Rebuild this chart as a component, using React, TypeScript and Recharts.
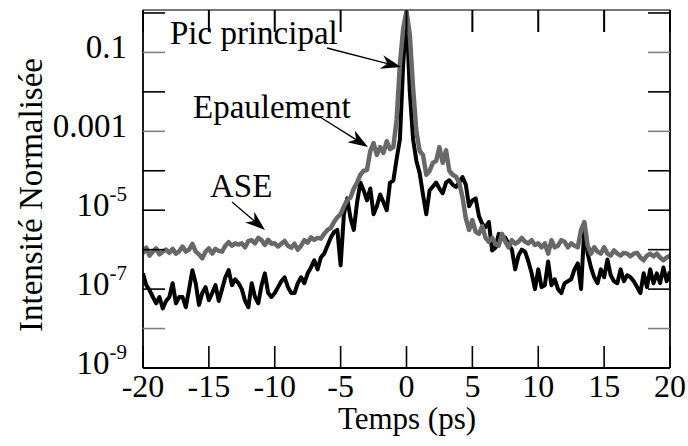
import React from "react";
import { LineChart, Line, XAxis, YAxis } from "recharts";

const SERIF = '"Liberation Serif", "Times New Roman", serif';

// log10 of the normalised intensity, one value every 0.25 ps from -20 to 20 ps
// grey curve (ASE + epaulement)
const greyLog = [
  -6.1, -5.95, -6.15, -6.05,
  -5.97, -6.12, -6.05, -6.0,
  -6.08, -5.98, -6.1, -6.04,
  -5.92, -6.05, -6.0, -5.85,
  -6.05, -6.12, -6.22, -6.05,
  -5.97, -6.1, -5.98, -6.03,
  -6.05, -5.9, -5.81, -5.9,
  -5.84, -5.87, -5.84, -5.94,
  -5.78, -5.76, -5.84, -5.7,
  -5.76, -5.88, -5.75, -5.85,
  -5.84, -5.92, -5.85, -5.78,
  -5.9, -5.95, -5.85, -6.0,
  -5.9, -5.76, -5.82, -5.69,
  -5.75, -5.7, -5.72, -5.6,
  -5.5, -5.45, -5.3, -5.18,
  -5.1, -4.9, -4.75, -4.68,
  -4.45, -4.3, -4.1, -4.0,
  -3.98, -3.5, -3.3, -3.6,
  -3.4, -3.55, -3.25, -3.45,
  -3.4, -2.7, -1.3, -0.4,
  0.05, -0.55, -1.9, -3.0,
  -3.5, -3.6, -4.1, -4.0,
  -3.8, -3.75, -3.4, -3.8,
  -3.48, -4.0, -4.1, -4.15,
  -4.3, -4.67, -5.2, -5.5,
  -5.25, -5.55, -5.6, -5.4,
  -5.7, -5.8, -5.7, -5.85,
  -5.9, -5.6, -5.8, -5.94,
  -5.76, -5.85, -5.8, -5.7,
  -5.8, -5.84, -5.76, -5.88,
  -5.84, -5.94, -5.84, -6.1,
  -5.76, -5.94, -5.9, -5.76,
  -5.8, -5.94, -5.84, -5.9,
  -5.94, -5.5, -5.3, -5.9,
  -6.1, -5.94, -6.05, -6.1,
  -5.94, -6.1, -6.15, -6.02,
  -6.1, -6.15, -6.08, -6.1,
  -6.17, -6.1, -6.08, -6.2,
  -6.27, -6.15, -6.1, -6.17,
  -6.1, -6.2, -6.27, -6.2,
  -6.15,
];

// black curve (pic principal)
const blackLog = [
  -6.6, -6.9, -7.03, -7.2,
  -7.36, -7.2, -7.49, -7.3,
  -7.2, -6.85, -7.36, -7.2,
  -7.2, -7.46, -7.0, -6.52,
  -6.85, -7.4, -7.1, -6.95,
  -7.28, -7.1, -6.9, -7.3,
  -7.0, -6.7, -6.52, -6.9,
  -6.75, -6.85, -7.0, -7.3,
  -7.46, -6.85, -7.2, -7.36,
  -6.9, -6.6, -7.1, -7.2,
  -7.1, -6.95, -6.8, -6.7,
  -6.95, -7.1, -7.1, -6.85,
  -6.7, -6.85, -6.6, -6.45,
  -6.27, -6.5, -6.2, -6.1,
  -5.9, -5.7, -5.55, -5.5,
  -6.4, -5.1, -4.7, -5.2,
  -5.5, -4.8, -4.3, -4.5,
  -4.75, -4.45, -5.1, -4.9,
  -4.6, -4.8, -5.0, -4.3,
  -4.25, -3.7, -3.2, -1.3,
  0, -2.0, -3.2, -3.75,
  -4.06, -4.6, -5.1, -4.5,
  -4.4, -4.3, -4.45, -4.57,
  -4.3, -4.24, -4.35, -4.41,
  -4.3, -4.16, -4.35, -4.9,
  -4.75, -4.7, -5.15, -5.35,
  -5.43, -5.3, -6.02, -5.95,
  -5.6, -5.65, -5.7, -5.85,
  -6.0, -6.5, -6.15, -6.0,
  -6.05, -6.3, -6.6, -7.0,
  -6.5, -6.95, -6.9, -6.3,
  -6.9, -6.75, -7.0, -7.1,
  -6.85, -6.8, -6.75, -6.5,
  -6.35, -7.0, -5.43, -6.1,
  -6.45, -6.7, -6.85, -6.5,
  -6.7, -6.25, -6.65, -6.8,
  -6.85, -6.5, -6.8, -6.65,
  -6.7, -6.8, -6.95, -7.1,
  -6.6, -6.95, -6.5, -6.85,
  -6.6, -6.85, -6.45, -6.8,
  -6.55,
];

const timeTicks = [-20, -15, -10, -5, 0, 5, 10, 15, 20];
const decadeTicks = [1, 0.1, 0.01, 1e-3, 1e-4, 1e-5, 1e-6, 1e-7, 1e-8, 1e-9];
const decadeLabels: Record<number, [string, string]> = {
  [-1]: ["0.1", ""],
  [-3]: ["0.001", ""],
  [-5]: ["10", "-5"],
  [-7]: ["10", "-7"],
  [-9]: ["10", "-9"],
};
const greyTickDecades = [-1, -3, -8];
const yMax = 1.19;

// plot box (chart margins + axis sizes)
const W = 688;
const H = 446;
const PLOT_L = 143;
const PLOT_R = 670;
const PLOT_T = 10;

const data = greyLog.map((g, i) => ({
  t: -20 + i * 0.25,
  grey: 10 ** g,
  black: 10 ** blackLog[i],
}));

function BottomTick({ x, y, payload }: any) {
  return (
    <g>
      <line x1={x} x2={x} y1={y} y2={y - 22} stroke="#000" strokeWidth={1.6} />
      <text x={x} y={y + 29} textAnchor="middle" fontSize={32} fontFamily={SERIF} fill="#000">
        {payload.value}
      </text>
    </g>
  );
}

function LeftTick({ x, y, payload }: any) {
  const exp = Math.round(Math.log10(payload.value));
  const lab = decadeLabels[exp];
  const col = greyTickDecades.includes(exp) ? "#808080" : "#000";
  return (
    <g>
      <line x1={x} x2={x + 22} y1={y} y2={y} stroke={col} strokeWidth={1.6} />
      {lab && (
        <text x={x - 16} y={y + 6} textAnchor="end" fontSize={33} fontFamily={SERIF} fill="#000">
          <tspan>{lab[0]}</tspan>
          {lab[1] && (
            <tspan dy={-15} fontSize={21}>
              {lab[1]}
            </tspan>
          )}
        </text>
      )}
    </g>
  );
}

function RightTick({ x, y, payload }: any) {
  const exp = Math.round(Math.log10(payload.value));
  const col = greyTickDecades.includes(exp) ? "#808080" : "#000";
  return <line x1={x} x2={x - 22} y1={y} y2={y} stroke={col} strokeWidth={1.6} />;
}

function Arrow({ x1, y1, x2, y2 }: { x1: number; y1: number; x2: number; y2: number }) {
  const a = Math.atan2(y2 - y1, x2 - x1);
  const len = 20;
  const w = 7;
  const bx = x2 - len * Math.cos(a);
  const by = y2 - len * Math.sin(a);
  const nx = -Math.sin(a);
  const ny = Math.cos(a);
  const mx = x2 - len * 0.7 * Math.cos(a);
  const my = y2 - len * 0.7 * Math.sin(a);
  const pts = `${x2},${y2} ${bx + nx * w},${by + ny * w} ${mx},${my} ${bx - nx * w},${by - ny * w}`;
  return (
    <g>
      <line x1={x1} y1={y1} x2={mx} y2={my} stroke="#000" strokeWidth={1.3} />
      <polygon points={pts} fill="#000" />
    </g>
  );
}

export default function App() {
  const txt = { fontFamily: SERIF, fontSize: 33, fill: "#000" };
  const tx = (t: number) => PLOT_L + ((t + 20) / 40) * (PLOT_R - PLOT_L);
  return (
    <div style={{ position: "absolute", left: 0, top: 0, width: W, height: H, background: "#fff" }}>
      <LineChart width={W} height={H} data={data} margin={{ top: PLOT_T, right: 17, bottom: 0, left: 0 }}>
        <XAxis
          dataKey="t"
          type="number"
          domain={[-20, 20]}
          ticks={timeTicks}
          allowDataOverflow
          height={78}
          tickSize={0}
          tickMargin={0}
          tickLine={false}
          axisLine={{ stroke: "#000", strokeWidth: 1.8 }}
          tick={<BottomTick />}
          interval={0}
        />
        <YAxis
          type="number"
          scale="log"
          domain={[1e-9, yMax]}
          ticks={decadeTicks}
          allowDataOverflow
          width={PLOT_L}
          tickSize={0}
          tickMargin={0}
          tickLine={false}
          axisLine={{ stroke: "#000", strokeWidth: 1.8 }}
          tick={<LeftTick />}
          interval={0}
        />
        <YAxis
          yAxisId="r"
          orientation="right"
          type="number"
          scale="log"
          domain={[1e-9, yMax]}
          ticks={decadeTicks}
          allowDataOverflow
          width={1}
          tickSize={0}
          tickMargin={0}
          tickLine={false}
          axisLine={{ stroke: "#000", strokeWidth: 1.8 }}
          tick={<RightTick />}
          interval={0}
        />
        {/* invisible copy so the right frame axis gets drawn */}
        <Line
          yAxisId="r"
          dataKey="black"
          stroke="none"
          strokeWidth={0}
          dot={false}
          legendType="none"
          isAnimationActive={false}
        />
        <Line
          dataKey="black"
          type="linear"
          stroke="#000"
          strokeWidth={4}
          strokeLinejoin="round"
          dot={false}
          isAnimationActive={false}
        />
        <Line
          dataKey="grey"
          type="linear"
          stroke="#686868"
          strokeWidth={4.5}
          strokeLinejoin="round"
          dot={false}
          isAnimationActive={false}
        />
      </LineChart>
      <svg width={W} height={H} style={{ position: "absolute", left: 0, top: 0, pointerEvents: "none" }}>
        {/* top frame with inward ticks */}
        <line x1={PLOT_L} x2={PLOT_R} y1={PLOT_T} y2={PLOT_T} stroke="#777" strokeWidth={2} />
        {timeTicks.map((t) => (
          <line key={t} x1={tx(t)} x2={tx(t)} y1={PLOT_T} y2={PLOT_T + 22} stroke="#000" strokeWidth={2} />
        ))}
        <text {...txt} transform="translate(42,195) rotate(-90)" textAnchor="middle">
          Intensité Normalisée
        </text>
        <text {...txt} x={407} y={429} fontSize={31} textAnchor="middle">
          Temps (ps)
        </text>
        <text {...txt} x={170} y={44}>
          Pic principal
        </text>
        <text {...txt} x={193} y={118}>
          Epaulement
        </text>
        <text {...txt} x={210} y={197}>
          ASE
        </text>
        <Arrow x1={327} y1={48} x2={401} y2={67} />
        <Arrow x1={320} y1={117} x2={368} y2={147} />
        <Arrow x1={232} y1={202} x2={265} y2={230} />
      </svg>
    </div>
  );
}
